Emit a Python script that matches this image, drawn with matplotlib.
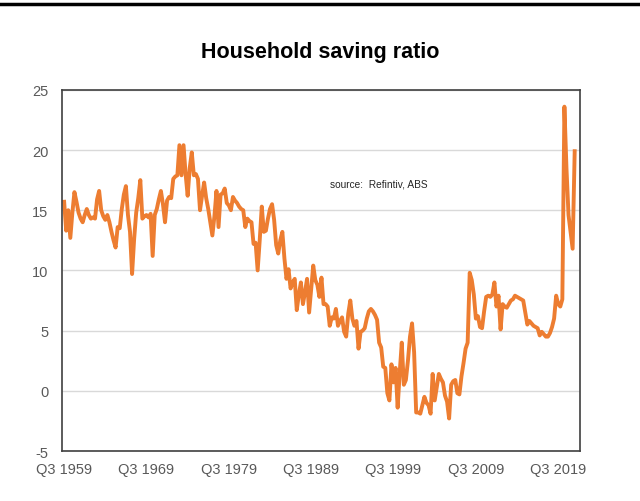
import matplotlib
matplotlib.use("Agg")
import matplotlib.pyplot as plt
from matplotlib.lines import Line2D

plt.rcParams['font.family'] = ['Liberation Sans Narrow', 'Liberation Sans', 'DejaVu Sans']
plt.rcParams['axes.unicode_minus'] = False

# quarterly household saving ratio, Q3 1959 .. Q3 2021
saving = [
    15.7, 13.3, 15.0, 12.7, 14.8, 16.5, 15.7, 14.8, 14.3, 14.0,
    14.6, 15.1, 14.6, 14.3, 14.4, 14.3, 15.9, 16.6, 15.0, 14.5,
    14.2, 14.6, 14.0, 13.2, 12.5, 11.9, 13.6, 13.5, 15.1, 16.3,
    17.0, 14.6, 13.2, 9.7, 12.6, 14.8, 16.0, 17.5, 14.3, 14.5,
    14.6, 14.4, 14.7, 11.2, 14.6, 15.1, 15.9, 16.6, 15.5, 14.0,
    15.8, 16.1, 16.0, 17.6, 17.8, 17.9, 20.4, 17.9, 20.4, 18.0,
    16.2, 18.5, 19.8, 17.9, 18.0, 17.6, 15.0, 16.2, 17.3, 16.0,
    15.1, 14.0, 12.9, 14.5, 16.6, 13.6, 16.3, 16.4, 16.8, 15.6,
    15.4, 15.0, 16.1, 15.8, 15.6, 15.3, 15.1, 15.0, 13.6, 14.3,
    14.1, 14.0, 12.2, 12.3, 10.0, 12.5, 15.3, 13.2, 13.3, 14.3,
    15.1, 15.5, 14.2, 12.1, 11.4, 12.5, 13.2, 11.0, 9.3, 10.1,
    8.5, 9.0, 9.3, 6.7, 8.0, 9.0, 7.2, 8.2, 9.3, 6.5,
    8.5, 10.4, 9.2, 8.8, 7.8, 9.4, 7.2, 7.2, 7.0, 5.4,
    6.1, 6.0, 6.8, 5.4, 5.8, 6.1, 4.9, 4.5, 6.4, 7.5,
    6.0, 5.4, 5.8, 3.5, 4.9, 5.0, 5.2, 6.0, 6.6, 6.8,
    6.6, 6.3, 5.9, 4.0, 3.6, 2.0, 1.9, -0.2, -0.8, 2.2,
    0.7, 1.9, -1.4, 1.5, 4.0, 0.5, 0.9, 2.5, 4.5, 5.6,
    3.2, -1.8, -1.8, -1.9, -1.2, -0.5, -1.0, -1.2, -1.9, 1.4,
    -0.8, 0.3, 1.4, 1.0, 0.7, -0.4, -0.9, -2.3, 0.5, 0.8,
    0.9, -0.2, -0.3, 1.2, 2.3, 3.5, 4.0, 9.8, 9.2, 8.0,
    6.0, 6.2, 5.3, 5.2, 6.6, 7.8, 7.9, 7.8, 8.0, 9.0,
    7.0, 7.9, 5.1, 7.2, 7.0, 6.9, 7.2, 7.5, 7.6, 7.9,
    7.8, 7.7, 7.6, 7.5, 6.5, 5.5, 5.8, 5.6, 5.4, 5.3,
    5.2, 4.6, 4.9, 4.7, 4.5, 4.5, 4.8, 5.3, 6.0, 7.9,
    7.2, 7.0, 7.6, 23.6, 18.5, 14.6, 13.2, 11.8, 19.9,
]
label_years = [1959, 1969, 1979, 1989, 1999, 2009, 2019]
y_ticks = [-5, 0, 5, 10, 15, 20, 25]

fig = plt.figure(figsize=(6.4, 5.02), dpi=100)
ax = fig.add_axes([0.097, 0.0996, 0.809, 0.7195])

ax.plot(range(len(saving)), saving, color='#ED7D31', linewidth=2.8, solid_joinstyle='round')

ax.set_ylim(-5, 25)
ax.set_yticks(y_ticks)
ax.set_xlim(-1, 250.5)
ax.set_xticks([(y - 1959) * 4 for y in label_years])
ax.set_xticklabels(['Q3 %d' % y for y in label_years])
ax.grid(axis='y', color='#d9d9d9', linewidth=1)
ax.set_axisbelow(True)
ax.tick_params(length=0, labelsize=10.5, colors='#595959')
ax.tick_params(axis='y', pad=10)
ax.tick_params(axis='x', pad=8)
for s in ax.spines.values():
    s.set_color('#404040')
    s.set_linewidth(1.2)

ax.text(0.517, 0.74, 'source:  Refintiv, ABS', transform=ax.transAxes,
        fontsize=7.3, color='#262626', va='center')

fig.text(0.5, 0.896, 'Household saving ratio', ha='center', va='center',
         fontsize=15.5, fontweight='bold', color='black')

fig.add_artist(Line2D([0, 1], [1 - 4.5 / 502, 1 - 4.5 / 502], color='black',
                      linewidth=2.5, transform=fig.transFigure))

fig.savefig('out.png', dpi=100)
